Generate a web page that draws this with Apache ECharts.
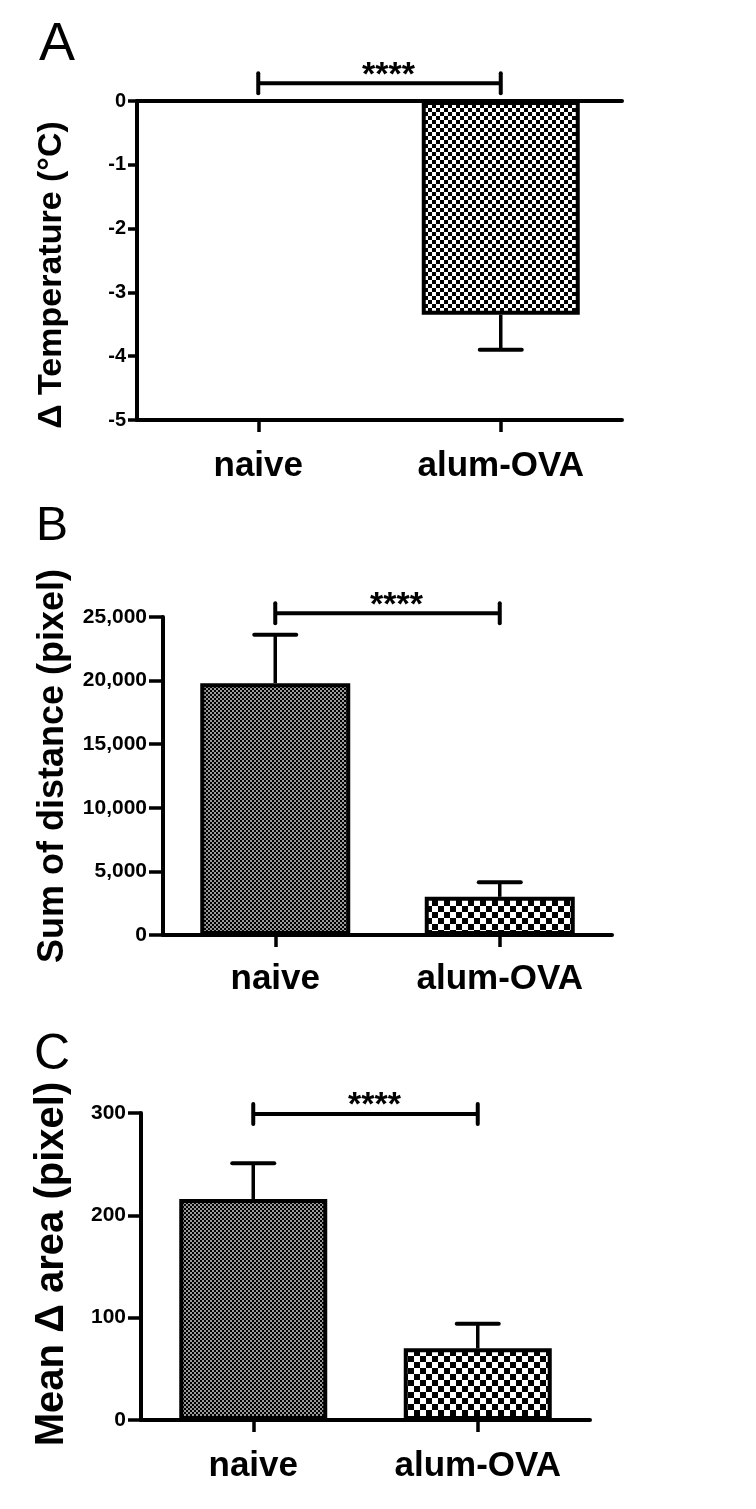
<!DOCTYPE html>
<html>
<head>
<meta charset="utf-8">
<script src="https://cdn.jsdelivr.net/npm/echarts@6/dist/echarts.min.js"></script>
<style>
html,body{margin:0;padding:0;background:#fff;}
#chart{width:756px;height:1509px;}
</style>
</head>
<body>
<div id="chart"></div>
<script>
const categories = ['naive', 'alum-OVA'];
const tempMeans = [0, -3.35];
const tempErrs = [0, 0.55];
const distMeans = [19800, 3000];
const distErrs = [3800, 1150];
const areaMeans = [216, 70];
const areaErrs = [35, 24];
const tempTicks = ['-5', '-4', '-3', '-2', '-1', '0'];
const distTicks = ['0', '5,000', '10,000', '15,000', '20,000', '25,000'];
const areaTicks = ['0', '100', '200', '300'];
const sigLabel = '****';
const tempSig = [[0, 1, 0.28]];
const distSig = [[0, 1, 25300]];
const areaSig = [[0, 1, 299]];
const titles = ['\u0394 Temperature (\u00b0C)', 'Sum of distance (pixel)', 'Mean \u0394 area (pixel)'];
const panelLetters = ['A', 'B', 'C'];

const FONT = '"Liberation Sans", Arial, sans-serif';

function checker(cell, c1, c2) {
  const cv = document.createElement('canvas');
  cv.width = cell * 2; cv.height = cell * 2;
  const ctx = cv.getContext('2d');
  ctx.fillStyle = c2; ctx.fillRect(0, 0, cell * 2, cell * 2);
  ctx.fillStyle = c1;
  ctx.fillRect(0, 0, cell, cell);
  ctx.fillRect(cell, cell, cell, cell);
  return {image: cv, repeat: 'repeat'};
}
const patA = checker(4, '#000', '#fff');
const patNaive = checker(2, '#000', '#9a9a9a');
const patAlum = checker(6, '#000', '#fff');

const chart = echarts.init(document.getElementById('chart'), null, {renderer: 'canvas'});

function xAxisDef(grid, margin) {
  return {
    type: 'category', gridIndex: grid, data: categories, position: 'bottom',
    axisLine: {show: true, onZero: false, lineStyle: {color: '#000', width: 4}},
    axisTick: {show: true, alignWithLabel: true, length: 12, lineStyle: {color: '#000', width: 3.5}},
    axisLabel: {interval: 0, margin: margin, color: '#000', fontFamily: FONT, fontWeight: 'bold', fontSize: 35},
    splitLine: {show: false}
  };
}
function yAxisDef(grid, min, max, interval, ticks, fs, tl) {
  return {
    type: 'value', gridIndex: grid, min: min, max: max, interval: interval,
    axisLine: {show: true, lineStyle: {color: '#000', width: 4}},
    axisTick: {show: true, length: tl, lineStyle: {color: '#000', width: 3.5}},
    axisLabel: {margin: tl + 2, color: '#000', fontFamily: FONT, fontWeight: 'bold', fontSize: fs,
      formatter: v => ticks[Math.round((v - min) / interval)]},
    splitLine: {show: false}
  };
}
function barSeries(idx, means, pats, bw) {
  return {
    type: 'bar', xAxisIndex: idx, yAxisIndex: idx, barWidth: bw, z: 2,
    data: means.map((m, i) => ({value: m, itemStyle: {color: pats[i]}})),
    itemStyle: {borderColor: '#000', borderWidth: 4},
    emphasis: {disabled: true}
  };
}
function errSeries(idx, means, errs) {
  return {
    type: 'custom', xAxisIndex: idx, yAxisIndex: idx, clip: false, z: 3,
    encode: {x: 0, y: 1},
    data: means.map((m, i) => [i, m, errs[i]]),
    renderItem(params, api) {
      const i = api.value(0), m = api.value(1), e = api.value(2);
      if (!e) return null;
      const s = m < 0 ? -1 : 1;
      const p0 = api.coord([i, m]);
      const p1 = api.coord([i, m + s * e]);
      const hw = 21;
      return {type: 'group', children: [
        {type: 'line', shape: {x1: p0[0], y1: p0[1], x2: p1[0], y2: p1[1]}, style: {stroke: '#000', lineWidth: 3.5}},
        {type: 'line', shape: {x1: p1[0] - hw, y1: p1[1], x2: p1[0] + hw, y2: p1[1]}, style: {stroke: '#000', lineWidth: 4, lineCap: 'round'}}
      ]};
    }
  };
}
function sigSeries(idx, data) {
  return {
    type: 'custom', xAxisIndex: idx, yAxisIndex: idx, clip: false, z: 4,
    encode: {x: [0, 1], y: 2},
    data: data,
    renderItem(params, api) {
      const a = api.coord([api.value(0), api.value(2)]);
      const b = api.coord([api.value(1), api.value(2)]);
      const cap = 10;
      return {type: 'group', children: [
        {type: 'line', shape: {x1: a[0], y1: a[1], x2: b[0], y2: b[1]}, style: {stroke: '#000', lineWidth: 4}},
        {type: 'line', shape: {x1: a[0], y1: a[1] - cap, x2: a[0], y2: a[1] + cap}, style: {stroke: '#000', lineWidth: 4, lineCap: 'round'}},
        {type: 'line', shape: {x1: b[0], y1: b[1] - cap, x2: b[0], y2: b[1] + cap}, style: {stroke: '#000', lineWidth: 4, lineCap: 'round'}},
        {type: 'text', x: (a[0] + b[0]) / 2 + 9, y: a[1] - 8,
          style: {text: sigLabel, fill: '#000', fontFamily: FONT, fontWeight: 'bold', fontSize: 34, align: 'center', verticalAlign: 'middle'}}
      ]};
    }
  };
}

const titleText = (t, x, y, fs) => ({
  type: 'text', x: x, y: y, rotation: Math.PI / 2,
  style: {text: t, fill: '#000', fontFamily: FONT, fontWeight: 'bold', fontSize: fs, align: 'center', verticalAlign: 'middle'}
});
const letterText = (t, x, y, fs) => ({
  type: 'text', x: x, y: y,
  style: {text: t, fill: '#000', fontFamily: FONT, fontWeight: 'normal', fontSize: fs, align: 'center', verticalAlign: 'middle'}
});

const option = {
  backgroundColor: '#fff',
  animation: false,
  grid: [
    {left: 137, right: 134, top: 101, bottom: 1089},
    {left: 163, right: 144, top: 617, bottom: 574},
    {left: 141, right: 166, top: 1113, bottom: 89}
  ],
  xAxis: [
    xAxisDef(0, 29),
    xAxisDef(1, 27),
    xAxisDef(2, 29),
    {type: 'category', gridIndex: 0, data: categories, position: 'top',
      axisLine: {show: true, onZero: false, lineStyle: {color: '#000', width: 4}},
      axisTick: {show: false}, axisLabel: {show: false}, splitLine: {show: false}}
  ],
  yAxis: [
    yAxisDef(0, -5, 0, 1, tempTicks, 20, 9),
    yAxisDef(1, 0, 25000, 5000, distTicks, 21, 14),
    yAxisDef(2, 0, 300, 100, areaTicks, 21, 13)
  ],
  series: [
    barSeries(0, tempMeans, [patA, patA], 158),
    errSeries(0, tempMeans, tempErrs),
    sigSeries(0, tempSig),
    barSeries(1, distMeans, [patNaive, patAlum], 150),
    errSeries(1, distMeans, distErrs),
    sigSeries(1, distSig),
    barSeries(2, areaMeans, [patNaive, patAlum], 148),
    errSeries(2, areaMeans, areaErrs),
    sigSeries(2, areaSig)
  ],
  graphic: [
    titleText(titles[0], 52, 275, 34),
    titleText(titles[1], 53, 766, 36),
    titleText(titles[2], 52, 1264, 40),
    letterText(panelLetters[0], 57, 45, 54),
    letterText(panelLetters[1], 52, 527, 48),
    letterText(panelLetters[2], 52, 1055, 50)
  ]
};
chart.setOption(option);
</script>
</body>
</html>
